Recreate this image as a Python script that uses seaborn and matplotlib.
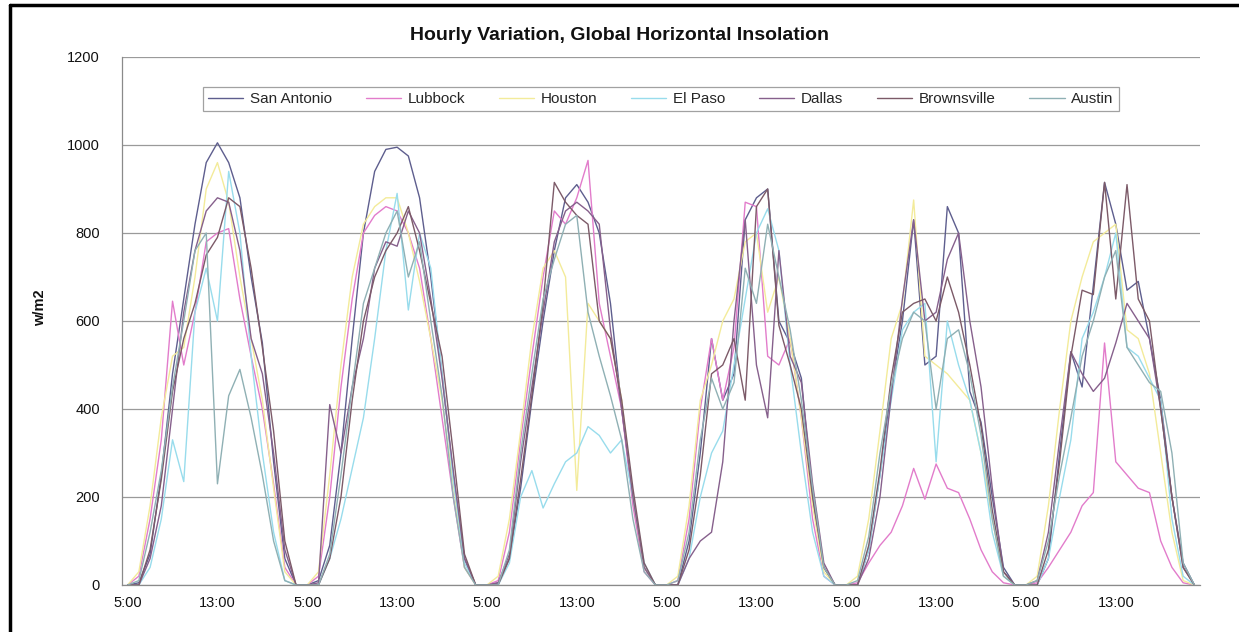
import matplotlib
matplotlib.use("Agg")
import matplotlib.pyplot as plt
from matplotlib.lines import Line2D
import seaborn as sns
import pandas as pd
import numpy as np

# ---- data (hourly values 5:00..20:00 for 6 days) ----
cities = ["San Antonio", "Lubbock", "Houston", "El Paso", "Dallas", "Brownsville", "Austin"]
tick_labels = ["5:00", "13:00", "5:00", "13:00", "5:00", "13:00",
               "5:00", "13:00", "5:00", "13:00", "5:00", "13:00"]

san_antonio = [0, 5, 70, 250, 480, 650, 820, 960, 1005, 960, 880, 700, 550, 280, 60, 0,
               0, 10, 90, 300, 560, 800, 940, 990, 995, 975, 880, 700, 480, 250, 60, 0,
               0, 5, 60, 220, 420, 600, 760, 880, 910, 870, 800, 640, 400, 200, 40, 0,
               0, 0, 100, 300, 560, 420, 480, 830, 880, 900, 600, 550, 470, 200, 40, 0,
               0, 0, 80, 250, 440, 600, 830, 500, 520, 860, 800, 440, 370, 200, 40, 0,
               0, 0, 60, 300, 530, 450, 680, 915, 820, 670, 690, 560, 420, 200, 50, 0]
lubbock = [0, 20, 150, 330, 645, 500, 620, 780, 800, 810, 650, 520, 400, 230, 40, 0,
           0, 20, 200, 450, 650, 800, 840, 860, 850, 800, 720, 560, 380, 200, 40, 0,
           0, 10, 120, 330, 520, 700, 850, 820, 880, 965, 640, 520, 400, 180, 30, 0,
           0, 10, 150, 400, 560, 420, 540, 870, 860, 520, 500, 560, 380, 150, 20, 0,
           0, 5, 50, 90, 120, 180, 265, 195, 275, 220, 210, 150, 80, 30, 5, 0,
           0, 5, 40, 80, 120, 180, 210, 550, 280, 250, 220, 210, 100, 40, 5, 0]
houston = [0, 30, 180, 380, 520, 540, 700, 900, 960, 870, 700, 560, 420, 220, 30, 0,
           0, 30, 250, 500, 700, 820, 860, 880, 880, 800, 690, 560, 420, 230, 40, 0,
           0, 20, 150, 350, 560, 720, 760, 700, 215, 640, 600, 560, 420, 200, 40, 0,
           0, 20, 180, 420, 500, 600, 650, 780, 800, 620, 700, 560, 380, 180, 30, 0,
           0, 20, 150, 350, 560, 640, 875, 520, 500, 480, 450, 420, 300, 150, 20, 0,
           0, 20, 180, 400, 600, 700, 780, 800, 820, 580, 560, 480, 300, 120, 10, 0]
el_paso = [0, 0, 40, 150, 330, 235, 620, 720, 600, 940, 800, 520, 300, 120, 10, 0,
           0, 0, 60, 150, 265, 380, 560, 760, 890, 625, 800, 720, 480, 240, 50, 0,
           0, 0, 50, 200, 260, 175, 230, 280, 300, 360, 340, 300, 330, 200, 50, 0,
           0, 0, 60, 200, 300, 350, 500, 650, 800, 855, 760, 500, 300, 120, 20, 0,
           0, 0, 80, 250, 420, 580, 620, 640, 280, 600, 500, 420, 300, 120, 20, 0,
           0, 0, 60, 200, 330, 560, 620, 700, 800, 540, 520, 470, 420, 150, 20, 0]
dallas = [0, 0, 60, 180, 400, 620, 760, 850, 880, 870, 760, 560, 480, 300, 80, 0,
          0, 5, 410, 300, 450, 560, 720, 780, 770, 850, 800, 650, 470, 260, 60, 0,
          0, 5, 70, 280, 450, 620, 780, 850, 870, 850, 820, 580, 400, 200, 40, 0,
          0, 0, 60, 100, 120, 280, 600, 830, 500, 380, 760, 520, 460, 230, 50, 0,
          0, 0, 60, 200, 430, 650, 830, 600, 620, 740, 800, 600, 450, 220, 30, 0,
          0, 10, 120, 330, 530, 480, 440, 470, 550, 640, 600, 560, 400, 200, 40, 0]
brownsville = [0, 0, 80, 240, 440, 560, 640, 750, 790, 880, 860, 720, 540, 350, 100, 0,
               0, 0, 60, 200, 420, 600, 700, 760, 800, 860, 760, 640, 520, 300, 70, 0,
               0, 0, 60, 240, 430, 640, 915, 870, 840, 820, 600, 560, 420, 220, 50, 0,
               0, 0, 80, 250, 480, 500, 560, 420, 860, 900, 590, 500, 400, 200, 40, 0,
               0, 0, 90, 260, 470, 620, 640, 650, 600, 700, 620, 500, 360, 170, 30, 0,
               0, 0, 80, 280, 520, 670, 660, 915, 650, 910, 650, 600, 400, 200, 40, 0]
austin = [0, 10, 120, 260, 450, 600, 760, 800, 230, 430, 490, 380, 250, 100, 10, 0,
          0, 0, 70, 250, 450, 640, 720, 800, 850, 700, 780, 600, 430, 200, 40, 0,
          0, 0, 80, 300, 480, 650, 740, 820, 840, 620, 520, 430, 330, 150, 30, 0,
          0, 10, 120, 330, 470, 400, 460, 720, 640, 820, 700, 580, 420, 220, 40, 0,
          0, 10, 110, 300, 450, 560, 620, 600, 400, 560, 580, 480, 340, 150, 20, 0,
          0, 10, 100, 250, 380, 520, 600, 700, 760, 540, 500, 460, 440, 300, 50, 0]

series = [san_antonio, lubbock, houston, el_paso, dallas, brownsville, austin]
colors = ["#5e5e8e", "#e27ccb", "#f3eb9a", "#98dcec", "#86608c", "#7c5a68", "#8fb0b4"]

frames = []
for name, vals in zip(cities, series):
    frames.append(pd.DataFrame({"idx": np.arange(len(vals)), "w": vals, "city": name}))
df = pd.concat(frames, ignore_index=True)

sns.set_theme(style="white")
plt.rcParams["font.family"] = ["Liberation Sans", "DejaVu Sans"]

fig = plt.figure(figsize=(12.39, 6.32), dpi=100)
ax = fig.add_axes([122 / 1239, 1 - 585 / 632, (1200 - 122) / 1239, (585 - 57) / 632])

palette = dict(zip(cities, colors))
sns.lineplot(data=df, x="idx", y="w", hue="city", hue_order=cities, palette=palette,
             linewidth=1.0, ax=ax, legend=False)

n = len(san_antonio)
ax.set_xlim(-0.5, n - 0.5)
ax.set_ylim(0, 1200)
ax.set_yticks(np.arange(0, 1201, 200))
ax.set_xticks(np.arange(0, n, 8))
ax.set_xticklabels(tick_labels)
ax.set_xticks(np.arange(-0.5, n, 4), minor=True)
ax.tick_params(axis="x", which="major", length=0, pad=8, labelsize=10.5, colors="#111111")
ax.tick_params(axis="x", which="minor", length=4, width=0.8, color="#888888", direction="out")
ax.tick_params(axis="y", which="major", length=4, width=0.8, color="#888888", direction="out",
               labelsize=10.5, colors="#111111", pad=12)
ax.grid(axis="y", color="#9a9a9a", linewidth=0.9)
ax.grid(axis="x", visible=False)
for s in ["top", "right"]:
    ax.spines[s].set_visible(False)
for s in ["left", "bottom"]:
    ax.spines[s].set_color("#8a8a8a")
    ax.spines[s].set_linewidth(0.9)
ax.set_xlabel("")
ax.set_ylabel("")

fig.text(620 / 1239, 1 - 35 / 632, "Hourly Variation, Global Horizontal Insolation",
         ha="center", va="center", fontsize=14, fontweight="bold", color="#111111")
fig.text(40 / 1239, 1 - 308 / 632, "w/m2", rotation=90, ha="center", va="center",
         fontsize=10.5, fontweight="bold", color="#111111")

handles = [Line2D([0], [0], color=c, linewidth=1.0) for c in colors]
leg = fig.legend(handles, cities, loc="center", bbox_to_anchor=(661 / 1239, 1 - 99 / 632),
                 ncol=7, frameon=True, fancybox=False, edgecolor="#8a8a8a",
                 fontsize=11, handlelength=2.3, columnspacing=2.2, handletextpad=0.45,
                 borderpad=0.35, borderaxespad=0)
leg.get_frame().set_linewidth(0.9)

# outer frame
fig.add_artist(Line2D([10 / 1239, 10 / 1239], [0, 1 - 5 / 632], transform=fig.transFigure,
                      color="black", linewidth=2.5))
fig.add_artist(Line2D([10 / 1239, 1], [1 - 5 / 632, 1 - 5 / 632], transform=fig.transFigure,
                      color="black", linewidth=2.5))

fig.savefig("out.png", dpi=100, facecolor="white")
